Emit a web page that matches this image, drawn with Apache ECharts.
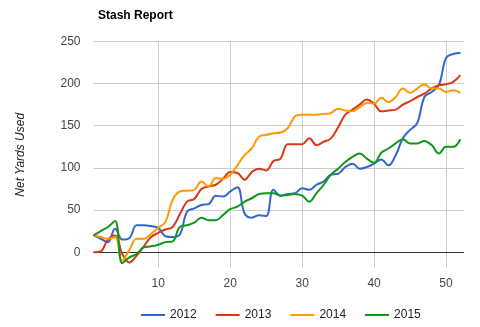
<!DOCTYPE html>
<html>
<head>
<meta charset="utf-8">
<script src="https://cdn.jsdelivr.net/npm/echarts@6/dist/echarts.min.js"></script>
<style>
html,body{margin:0;padding:0;background:#fff;}
#chart{width:480px;height:327px;}
</style>
</head>
<body>
<div id="chart"></div>
<script>
var weeks = [1,2,3,4,5,6,7,8,9,10,11,12,13,14,15,16,17,18,19,20,21,22,23,24,25,26,27,28,29,30,31,32,33,34,35,36,37,38,39,40,41,42,43,44,45,46,47,48,49,50,51,52];
var s2012 = [20,16,12,28,15,17,32,32,31,29,19,18,21,48,52,56,57,67,66,72,77,46,41,44,43,74,67,69,70,76,74,80,84,92,93,101,105,99,101,105,110,103,115,135,145,153,184,190,198,230,235,236];
var s2013 = [0,1,15,20,-2,-12,-4,7,18,23,27,30,45,60,63,75,78,80,87,95,94,86,95,99,97,108,111,128,128,128,135,127,131,135,148,163,169,175,181,176,167,168,169,175,179,184,188,194,198,199,202,210];
var s2014 = [20,18,16,18,-10,3,16,16,22,29,36,62,72,73,74,84,78,88,87,92,103,115,123,137,139,141,142,147,161,163,163,163,164,165,170,168,167,172,177,176,183,178,184,194,189,194,199,194,194,190,192,189];
var s2015 = [20,25,30,37,-13,-6,-2,6,7,9,12,13,30,32,35,41,38,38,44,51,54,60,64,69,70,70,67,68,69,67,60,70,80,92,99,107,113,117,111,106,118,123,129,134,129,129,132,127,117,125,125,134];
var seriesNames = ['2012','2013','2014','2015'];
var seriesColors = ['#3366cc','#dc3912','#ff9900','#109618'];
var yTicks = [0,50,100,150,200,250];
var xTicks = [10,20,30,40,50];

function pairs(vals){ return weeks.map(function(w,i){ return [w, vals[i]]; }); }
var allData = [s2012, s2013, s2014, s2015];
var FONT = '"Liberation Sans", Arial, sans-serif';

var series = allData.map(function(vals, i){
  var s = {
    name: seriesNames[i],
    type: 'line',
    data: pairs(vals),
    smooth: 0.4,
    showSymbol: false,
    symbol: 'none',
    lineStyle: { width: 2, color: seriesColors[i] },
    itemStyle: { color: seriesColors[i] },
    animation: false,
    z: 3
  };
  if (i === 0) {
    s.markLine = {
      silent: true,
      symbol: ['none','none'],
      label: { show: false },
      lineStyle: { color: '#333', width: 1, type: 'solid' },
      data: [{ yAxis: 0 }],
      animation: false,
      z: 1
    };
  }
  return s;
});

var chart = echarts.init(document.getElementById('chart'), null, {renderer:'canvas'});
chart.setOption({
  backgroundColor: '#fff',
  animation: false,
  title: {
    text: 'Stash Report',
    left: 93, top: 5,
    textStyle: { fontFamily: FONT, fontSize: 12, fontWeight: 'bold', color: '#000' }
  },
  legend: {
    data: seriesNames,
    left: 136, top: 304,
    icon: 'rect',
    itemWidth: 24, itemHeight: 2,
    itemGap: 19,
    textStyle: { fontFamily: FONT, fontSize: 12, color: '#222' }
  },
  grid: { left: 93.5, right: 16, top: 41.3, bottom: 58.7, containLabel: false },
  xAxis: {
    type: 'value', min: 1, max: 52.5,
    axisLine: { show: false },
    axisTick: { show: false, customValues: xTicks },
    axisLabel: { customValues: xTicks, margin: 9, fontFamily: FONT, fontSize: 12, color: '#444' },
    splitLine: { show: true, lineStyle: { color: '#cccccc', width: 1 } }
  },
  yAxis: {
    type: 'value', min: -19, max: 250,
    name: 'Net Yards Used',
    nameLocation: 'middle',
    nameRotate: 90,
    nameGap: 67,
    nameTextStyle: { fontFamily: FONT, fontSize: 12, fontStyle: 'italic', color: '#222' },
    axisLine: { show: false },
    axisTick: { show: false, customValues: yTicks },
    axisLabel: { customValues: yTicks, margin: 13, fontFamily: FONT, fontSize: 12, color: '#444' },
    splitLine: { show: true, lineStyle: { color: '#cccccc', width: 1 } }
  },
  series: series
});
</script>
</body>
</html>
